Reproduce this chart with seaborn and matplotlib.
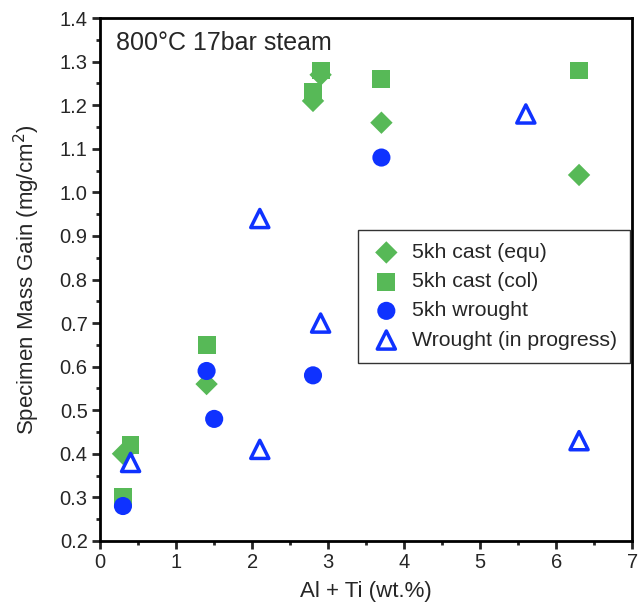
import matplotlib
matplotlib.use("Agg")
import matplotlib.pyplot as plt
import seaborn as sns
import pandas as pd
from matplotlib.ticker import MultipleLocator

# Data
equ_x = [0.3, 1.4, 2.8, 2.9, 3.7, 6.3]
equ_y = [0.40, 0.56, 1.21, 1.27, 1.16, 1.04]
col_x = [0.3, 0.4, 1.4, 2.8, 2.9, 3.7, 6.3]
col_y = [0.30, 0.42, 0.65, 1.23, 1.28, 1.26, 1.28]
wr_x = [0.3, 1.4, 1.5, 2.8, 3.7]
wr_y = [0.28, 0.59, 0.48, 0.58, 1.08]
prog_x = [0.4, 2.1, 2.1, 2.9, 5.6, 6.3]
prog_y = [0.38, 0.94, 0.41, 0.70, 1.18, 0.43]
labels = ["5kh cast (equ)", "5kh cast (col)", "5kh wrought", "Wrought (in progress)"]

sns.set_style("white")
plt.rcParams['font.family'] = ['Liberation Sans', 'DejaVu Sans']

green = "#57b957"
blue = "#0f32ff"

fig = plt.figure(figsize=(6.38, 6.05), dpi=100)
ax = fig.add_axes([0.157, 0.106, 0.834, 0.864])

sns.scatterplot(x=equ_x, y=equ_y, ax=ax, marker="D", s=130, color=green,
                edgecolor="none", label=labels[0], zorder=3)
sns.scatterplot(x=col_x, y=col_y, ax=ax, marker="s", s=165, color=green,
                edgecolor="none", label=labels[1], zorder=3)
sns.scatterplot(x=wr_x, y=wr_y, ax=ax, marker="o", s=170, color=blue,
                edgecolor="none", label=labels[2], zorder=4)
sns.scatterplot(x=prog_x, y=prog_y, ax=ax, marker="^", s=170, facecolor="none",
                edgecolor=blue, linewidth=2.5, label=labels[3], zorder=5)

ax.set_xlim(0, 7)
ax.set_ylim(0.2, 1.4)
ax.xaxis.set_major_locator(MultipleLocator(1))
ax.xaxis.set_minor_locator(MultipleLocator(0.5))
ax.yaxis.set_major_locator(MultipleLocator(0.1))
ax.yaxis.set_minor_locator(MultipleLocator(0.05))
ax.yaxis.set_major_formatter(matplotlib.ticker.FormatStrFormatter('%.1f'))
ax.tick_params(which='major', direction='out', length=6, width=2, labelsize=14.5,
               bottom=True, left=True, top=False, right=False, pad=3)
ax.tick_params(which='minor', direction='out', length=3, width=2,
               bottom=True, left=True, top=False, right=False)
for sp in ax.spines.values():
    sp.set_linewidth(2)
    sp.set_color("black")

ax.set_xlabel("Al + Ti (wt.%)", fontsize=16, labelpad=6)
ax.set_ylabel("Specimen Mass Gain (mg/cm$^2$)", fontsize=16, labelpad=13)
ax.text(0.03, 0.975, "800°C 17bar steam", transform=ax.transAxes, fontsize=18,
        va="top", ha="left")

leg = ax.legend(loc="upper right", bbox_to_anchor=(0.996, 0.595), fontsize=15.3,
                frameon=True, fancybox=False, edgecolor="black",
                handlelength=1.4, handletextpad=0.5, borderpad=0.62,
                labelspacing=0.48, borderaxespad=0.0)
leg.get_frame().set_linewidth(1.0)

fig.savefig("out.png", dpi=100)
